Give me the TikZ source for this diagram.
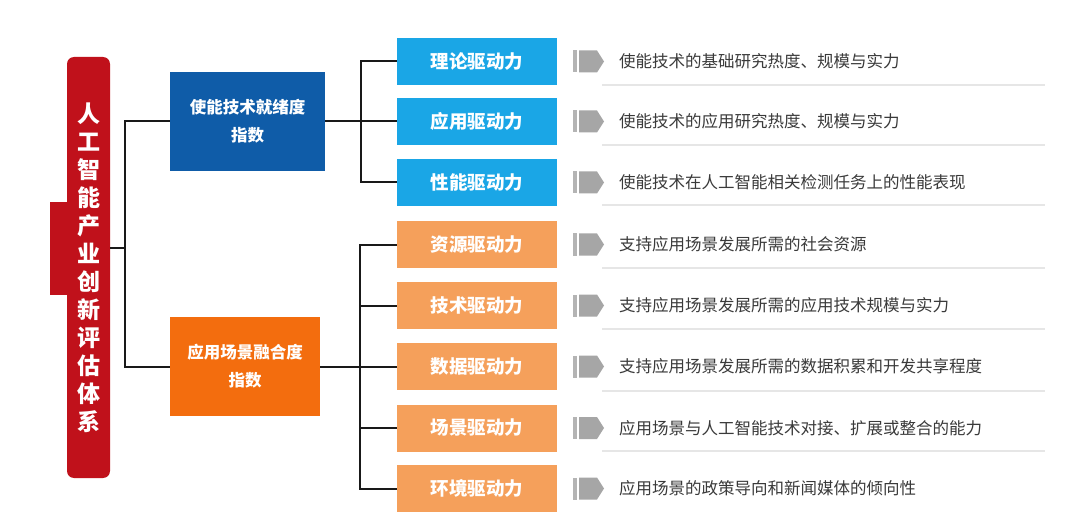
\documentclass[tikz,border=0pt]{standalone}
\usepackage{fontspec}
\setmainfont{Noto Sans CJK SC}
\definecolor{barred}{HTML}{C0111B}
\definecolor{dblue}{HTML}{0F5CA8}
\definecolor{lblue}{HTML}{1AA6E6}
\definecolor{dorange}{HTML}{F36D0E}
\definecolor{lorange}{HTML}{F5A05B}
\definecolor{desc}{HTML}{3A3A3A}
\definecolor{icon}{HTML}{A6A6A6}
\definecolor{iconbar}{HTML}{B4B4B4}
\definecolor{sep}{HTML}{E6E6E6}
\tikzset{
  lvone/.style={rectangle, inner sep=0pt, minimum width=#1, minimum height=99pt, text=white, align=center, font=\fontsize{16.5}{28}\selectfont\bfseries},
  lvtwo/.style={rectangle, inner sep=0pt, minimum width=160pt, minimum height=47pt, text=white, font=\fontsize{18.5}{22}\selectfont\bfseries},
  desctext/.style={anchor=west, inner sep=0pt, text=desc, font=\fontsize{16.5}{20}\selectfont},
  link/.style={draw=black!90, line width=2pt},
  seprule/.style={draw=sep, line width=1.5pt}
}
\newcommand{\rowicon}[1]{%
  \fill[iconbar] (573,#1-11) rectangle (577,#1+11);
  \fill[icon] (579,#1-11) -- (597,#1-11) -- (604,#1) -- (597,#1+11) -- (579,#1+11) -- cycle;
}
\begin{document}
\begin{tikzpicture}[x=1pt,y=-1pt]
\useasboundingbox[fill=white] (0,0) rectangle (1080,516);
% red bar
\fill[barred] (50,202) rectangle (75,295);
\fill[barred, rounded corners=7pt] (67,57) rectangle (110,478);
\node[text=white, align=center, inner sep=0pt, font=\fontsize{23}{28}\selectfont\bfseries] (root) at (88.5,268)
  {人\\工\\智\\能\\产\\业\\创\\新\\评\\估\\体\\系};
\coordinate (rootE) at (110,248);
% level one
\node[lvone=155pt, fill=dblue] (b1) at (247.5,121.5) {使能技术就绪度\\指数};
\node[lvone=150pt, fill=dorange] (b2) at (245,366.5) {应用场景融合度\\指数};
% level two
\node[lvtwo, fill=lblue] (t1) at (477,61.5) {理论驱动力};
\node[lvtwo, fill=lblue] (t2) at (477,121.5) {应用驱动力};
\node[lvtwo, fill=lblue] (t3) at (477,182.5) {性能驱动力};
\node[lvtwo, fill=lorange] (s1) at (477,244.5) {资源驱动力};
\node[lvtwo, fill=lorange] (s2) at (477,305.5) {技术驱动力};
\node[lvtwo, fill=lorange] (s3) at (477,366.5) {数据驱动力};
\node[lvtwo, fill=lorange] (s4) at (477,428) {场景驱动力};
\node[lvtwo, fill=lorange] (s5) at (477,488.5) {环境驱动力};
% connectors
\coordinate (jL) at (125,248);
\coordinate (jB) at (361,121.5);
\coordinate (jO) at (360,366.5);
\draw[link] (rootE) -- (jL);
\draw[link] (b1.west) -| (jL) |- (b2.west);
\draw[link] (b1.east) -- (jB);
\draw[link] (t1.west) -| (jB) |- (t3.west);
\draw[link] (t2.west) -- (jB);
\draw[link] (b2.east) -- (jO);
\draw[link] (s1.west) -| (jO) |- (s5.west);
\draw[link] (s2.west) -| (jO);
\draw[link] (s3.west) -- (jO);
\draw[link] (s4.west) -| (jO);
% separators
\foreach \yy in {85,145,205,268,329,391,451}
  \draw[seprule] (602,\yy) -- (1045,\yy);
% icons
\rowicon{61.5}
\rowicon{121.5}
\rowicon{182.5}
\rowicon{244.5}
\rowicon{305.5}
\rowicon{366.5}
\rowicon{428}
\rowicon{488.5}
% descriptions
\node[desctext] (d1) at (619,61.5) {使能技术的基础研究热度、规模与实力};
\node[desctext] (d2) at (619,121.5) {使能技术的应用研究热度、规模与实力};
\node[desctext] (d3) at (619,182.5) {使能技术在人工智能相关检测任务上的性能表现};
\node[desctext] (d4) at (619,244.5) {支持应用场景发展所需的社会资源};
\node[desctext] (d5) at (619,305.5) {支持应用场景发展所需的应用技术规模与实力};
\node[desctext] (d6) at (619,366.5) {支持应用场景发展所需的数据积累和开发共享程度};
\node[desctext] (d7) at (619,428) {应用场景与人工智能技术对接、扩展或整合的能力};
\node[desctext] (d8) at (619,488.5) {应用场景的政策导向和新闻媒体的倾向性};
\end{tikzpicture}
\end{document}
